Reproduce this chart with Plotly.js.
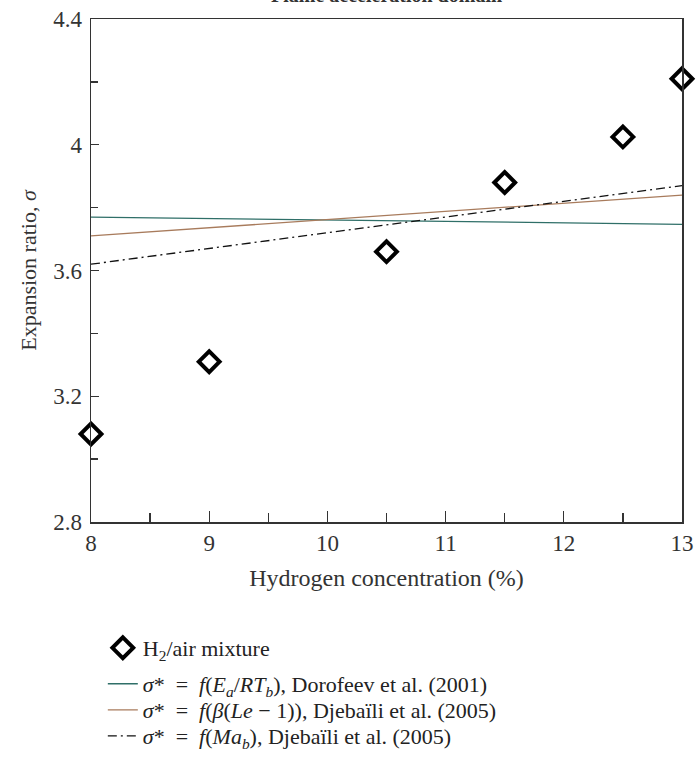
<!DOCTYPE html>
<html>
<head>
<meta charset="utf-8">
<script src="https://cdn.plot.ly/plotly-3.0.1.min.js"></script>
<style>
html,body{margin:0;padding:0;background:#fff;}
#chart{width:700px;height:758px;}
</style>
</head>
<body>
<div id="chart"></div>
<script>
// Measured data: H2/air mixture
var h2Conc = [8, 9, 10.5, 11.5, 12.5, 13];
var h2Sigma = [3.08, 3.31, 3.66, 3.88, 4.025, 4.21];

// Model lines (endpoints at 8% and 13%)
var lineX = [8, 13];
var dorofeevSigma = [3.77, 3.747];
var djebailiBetaSigma = [3.71, 3.84];
var djebailiMaSigma = [3.62, 3.87];

var legendNames = [
  "H<sub>2</sub>/air mixture",
  "<i>σ</i>*\u2002=\u2002<i>f</i>(<i>E<sub>a</sub></i>/<i>RT<sub>b</sub></i>), Dorofeev et al. (2001)",
  "<i>σ</i>*\u2002=\u2002<i>f</i>(<i>β</i>(<i>Le</i> − 1)), Djebaïli et al. (2005)",
  "<i>σ</i>*\u2002=\u2002<i>f</i>(<i>Ma<sub>b</sub></i>), Djebaïli et al. (2005)"
];

var xTickVals = [8, 9, 10, 11, 12, 13];
var yTickVals = [2.8, 3.2, 3.6, 4.0, 4.4];
var yTickText = ["2.8", "3.2", "3.6", "4", "4.4"];

var serif = "Liberation Serif, Times New Roman, serif";
var axisColor = "#333333";

var traces = [
  {
    x: h2Conc, y: h2Sigma, mode: "markers", type: "scatter",
    name: legendNames[0], legend: "legend",
    marker: {symbol: "diamond-open", size: 16, color: "#000", line: {width: 4, color: "#000"}},
    cliponaxis: false
  },
  {
    x: lineX, y: dorofeevSigma, mode: "lines", type: "scatter",
    name: legendNames[1], legend: "legend2",
    line: {color: "#2f6f68", width: 1.3}
  },
  {
    x: lineX, y: djebailiBetaSigma, mode: "lines", type: "scatter",
    name: legendNames[2], legend: "legend3",
    line: {color: "#a87b5c", width: 1.3}
  },
  {
    x: lineX, y: djebailiMaSigma, mode: "lines", type: "scatter",
    name: legendNames[3], legend: "legend4",
    line: {color: "#111", width: 1.3, dash: "9px,4px,2px,4px"}
  }
];

function legendAt(yPaper) {
  return {
    x: 0.02, xanchor: "left", y: yPaper, yanchor: "middle",
    font: {family: serif, size: 22, color: "#222"},
    bgcolor: "rgba(0,0,0,0)"
  };
}

var layout = {
  width: 700, height: 758,
  margin: {l: 91, r: 18, t: 19, b: 236, autoexpand: false},
  paper_bgcolor: "#fff", plot_bgcolor: "#fff",
  font: {family: serif, color: "#333"},
  showlegend: true,
  legend: legendAt(-0.2505),
  legend2: legendAt(-0.322),
  legend3: legendAt(-0.3738),
  legend4: legendAt(-0.4254),
  xaxis: {
    range: [8, 13],
    tickvals: xTickVals,
    ticks: "inside", ticklen: 11, tickwidth: 1.3, tickcolor: axisColor,
    minor: {dtick: 0.5, ticks: "inside", ticklen: 9, tickwidth: 1.3, tickcolor: axisColor},
    showline: true, linecolor: axisColor, linewidth: 1.5, mirror: true,
    showgrid: false, zeroline: false,
    tickfont: {family: serif, size: 23, color: "#333"},
    title: {text: "Hydrogen concentration (%)", font: {family: serif, size: 24, color: "#333"}, standoff: 14}
  },
  yaxis: {
    range: [2.8, 4.4],
    tickvals: yTickVals, ticktext: yTickText,
    ticks: "inside", ticklen: 8, tickwidth: 1.3, tickcolor: axisColor,
    minor: {dtick: 0.2, ticks: "inside", ticklen: 7, tickwidth: 1.3, tickcolor: axisColor},
    showline: true, linecolor: axisColor, linewidth: 1.5, mirror: true,
    showgrid: false, zeroline: false,
    tickfont: {family: serif, size: 23, color: "#333"},
    ticklabelstandoff: 3,
    title: {text: "Expansion ratio, <i>σ</i>", font: {family: serif, size: 22, color: "#333"}, standoff: 10}
  },
  annotations: [
    {
      text: "<b>Flame acceleration domain</b>",
      xref: "paper", yref: "paper", x: 0.5, y: 1, xanchor: "center", yanchor: "bottom",
      yshift: 11, showarrow: false,
      font: {family: serif, size: 20, color: "#333"}
    }
  ]
};

Plotly.newPlot("chart", traces, layout, {displayModeBar: false, staticPlot: true});
</script>
</body>
</html>
